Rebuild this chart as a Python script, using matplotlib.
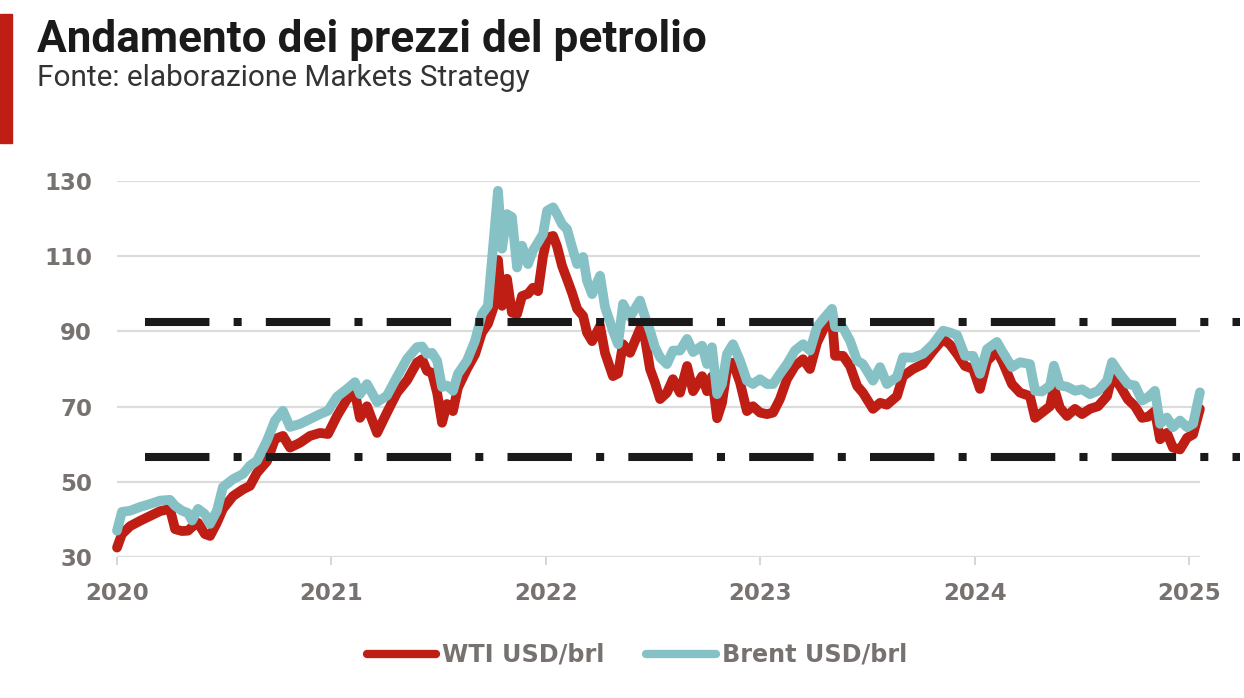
import matplotlib
matplotlib.use("Agg")
import matplotlib.pyplot as plt
from matplotlib.patches import Rectangle

# valori (anno decimale, USD/brl)
anni = [
    2020.000, 2020.023, 2020.061, 2020.107, 2020.154, 2020.201, 2020.247, 2020.271,
    2020.303, 2020.331, 2020.350, 2020.378, 2020.410, 2020.434, 2020.466, 2020.494,
    2020.541, 2020.588, 2020.620, 2020.653, 2020.700, 2020.737, 2020.774, 2020.807,
    2020.854, 2020.900, 2020.947, 2020.984, 2021.026, 2021.073, 2021.110, 2021.133,
    2021.166, 2021.213, 2021.259, 2021.306, 2021.353, 2021.399, 2021.423, 2021.446,
    2021.469, 2021.493, 2021.516, 2021.539, 2021.567, 2021.590, 2021.632, 2021.670,
    2021.702, 2021.730, 2021.754, 2021.777, 2021.796, 2021.819, 2021.842, 2021.866,
    2021.889, 2021.917, 2021.940, 2021.964, 2021.987, 2022.006, 2022.034, 2022.052,
    2022.076, 2022.099, 2022.122, 2022.146, 2022.174, 2022.192, 2022.216, 2022.253,
    2022.276, 2022.313, 2022.337, 2022.360, 2022.393, 2022.439, 2022.463, 2022.486,
    2022.509, 2022.533, 2022.565, 2022.593, 2022.626, 2022.659, 2022.687, 2022.729,
    2022.752, 2022.775, 2022.799, 2022.822, 2022.845, 2022.873, 2022.906, 2022.938,
    2022.966, 2022.999, 2023.032, 2023.060, 2023.092, 2023.125, 2023.162, 2023.200,
    2023.232, 2023.265, 2023.302, 2023.335, 2023.349, 2023.386, 2023.419, 2023.452,
    2023.479, 2023.526, 2023.559, 2023.591, 2023.638, 2023.666, 2023.713, 2023.759,
    2023.806, 2023.853, 2023.885, 2023.918, 2023.955, 2023.993, 2024.025, 2024.058,
    2024.104, 2024.132, 2024.174, 2024.212, 2024.258, 2024.282, 2024.314, 2024.352,
    2024.370, 2024.398, 2024.431, 2024.468, 2024.501, 2024.538, 2024.576, 2024.618,
    2024.641, 2024.678, 2024.715, 2024.748, 2024.781, 2024.809, 2024.841, 2024.865,
    2024.897, 2024.925, 2024.958, 2024.991, 2025.019, 2025.051,
]

brent = [
    37.0, 42.0, 42.3, 43.3, 44.1, 45.0, 45.2, 43.6,
    42.3, 41.7, 39.7, 42.8, 41.4, 38.8, 42.3, 48.6,
    50.7, 52.1, 54.3, 55.6, 61.0, 66.3, 68.9, 64.6,
    65.4, 66.7, 68.0, 68.9, 72.6, 74.7, 76.5, 73.3,
    76.0, 71.2, 72.9, 77.9, 82.7, 85.8, 86.0, 84.0,
    84.3, 82.2, 75.2, 75.6, 74.2, 78.7, 82.2, 87.5,
    94.6, 96.8, 112.4, 127.4, 112.0, 121.2, 120.4, 107.0,
    112.8, 107.9, 111.5, 113.7, 115.9, 122.1, 123.0, 121.2,
    118.5, 117.2, 112.5, 107.9, 109.8, 103.5, 99.9, 104.8,
    96.5, 90.2, 86.6, 97.3, 93.8, 98.2, 93.8, 90.2,
    85.8, 83.1, 81.3, 84.9, 84.9, 88.0, 84.5, 86.2,
    81.3, 85.8, 73.3, 76.0, 84.0, 86.6, 82.2, 76.9,
    76.0, 77.3, 76.0, 76.0, 78.7, 81.3, 84.9, 86.6,
    84.9, 91.2, 93.8, 96.0, 91.2, 91.0, 87.5, 82.2,
    81.3, 76.9, 80.5, 76.0, 77.9, 83.1, 83.0, 84.0,
    86.6, 90.2, 89.7, 89.0, 83.5, 83.5, 78.7, 85.3,
    87.2, 84.4, 80.5, 81.8, 81.3, 74.2, 74.0, 75.6,
    80.9, 75.6, 75.3, 74.2, 74.6, 73.3, 74.2, 76.9,
    81.8, 78.7, 76.0, 75.6, 71.6, 72.5, 74.2, 65.4,
    67.1, 64.5, 66.3, 64.5, 65.4, 73.8,
]

wti = [
    32.5, 36.1, 38.2, 39.6, 40.9, 42.2, 42.8, 37.4,
    36.9, 37.0, 38.0, 39.1, 36.1, 35.6, 39.1, 42.8,
    46.2, 48.0, 48.9, 52.4, 55.5, 61.4, 62.2, 59.1,
    60.4, 62.2, 63.0, 62.7, 67.5, 72.0, 73.7, 67.0,
    70.1, 63.0, 68.4, 73.7, 77.0, 81.7, 82.6, 79.5,
    79.0, 73.7, 65.7, 70.7, 68.8, 75.0, 80.0, 83.9,
    89.7, 92.0, 96.0, 109.0, 96.8, 104.0, 95.0, 94.6,
    99.4, 100.0, 101.6, 100.7, 110.0, 114.9, 115.4, 112.7,
    107.4, 103.9, 100.3, 96.0, 94.1, 89.7, 87.4, 91.4,
    84.3, 78.1, 78.8, 86.6, 84.3, 90.6, 88.0, 80.0,
    76.4, 72.0, 73.7, 77.3, 73.7, 80.8, 74.1, 78.1,
    74.1, 78.0, 66.9, 71.0, 80.0, 81.7, 76.4, 68.8,
    70.1, 68.4, 68.0, 68.4, 72.0, 77.3, 80.8, 82.6,
    80.0, 87.0, 91.4, 93.2, 83.5, 83.5, 80.8, 75.5,
    73.7, 69.4, 71.0, 70.5, 72.8, 78.1, 80.0, 81.3,
    84.8, 88.0, 86.5, 84.0, 80.8, 80.0, 74.7, 82.1,
    84.8, 81.7, 76.0, 73.7, 72.8, 67.0, 68.4, 70.1,
    75.0, 69.7, 67.5, 69.4, 68.0, 69.4, 70.1, 72.8,
    78.1, 75.5, 71.9, 70.1, 67.0, 67.3, 68.8, 61.3,
    63.0, 59.1, 58.6, 61.7, 62.6, 69.4,
]

# livelli di riferimento (linee tratto-punto)
livello_alto = 92.5
livello_basso = 56.5

anni_tick = [2020, 2021, 2022, 2023, 2024, 2025]
valori_tick = [30, 50, 70, 90, 110, 130]

ROSSO = "#be1e14"
AZZURRO = "#86c1c6"
GRIGIO = "#77726f"
W, H = 1244, 698

fig = plt.figure(figsize=(W / 100, H / 100), dpi=100)
ax = fig.add_axes([117 / W, 1 - 557 / H, (1200 - 117) / W, (557 - 181) / H])

ax.plot(anni, wti, color=ROSSO, lw=7, solid_joinstyle="round",
        solid_capstyle="round", label="WTI USD/brl", zorder=3, clip_on=False)
ax.plot(anni, brent, color=AZZURRO, lw=7, solid_joinstyle="round",
        solid_capstyle="round", label="Brent USD/brl", zorder=4, clip_on=False)

x0 = 2020 + (145 - 117) / 214.4
x1 = 2020 + (1240 - 117) / 214.4
for lv in (livello_alto, livello_basso):
    ln, = ax.plot([x0, x1], [lv, lv], color="#1a1a1a", lw=5.8,
                  dash_capstyle="butt", clip_on=False, zorder=5)
    ln.set_dashes([8, 3, 1, 3])

ax.set_xlim(2020, 2020 + (1200 - 117) / 214.4)
ax.set_ylim(30, 130)
ax.set_xticks(anni_tick)
ax.set_xticklabels([str(a) for a in anni_tick])
ax.set_yticks(valori_tick)
ax.set_yticklabels([str(v) for v in valori_tick])

for s in ax.spines.values():
    s.set_visible(False)
ax.grid(axis="y", color="#dcdcdc", lw=1.6)
ax.set_axisbelow(True)
ax.tick_params(axis="y", length=0, pad=18, labelsize=16.5, labelcolor=GRIGIO)
ax.tick_params(axis="x", length=6, width=1.2, color="#d0d0d0", pad=12,
               labelsize=16.5, labelcolor=GRIGIO)
for lab in ax.get_xticklabels() + ax.get_yticklabels():
    lab.set_fontfamily("DejaVu Sans")
    lab.set_fontweight("bold")

leg = fig.legend(loc="center", bbox_to_anchor=(637 / W, 1 - 655 / H), ncol=2,
                 frameon=False, handlelength=2.9, handletextpad=0.25,
                 columnspacing=1.75,
                 prop={"family": "DejaVu Sans", "weight": "bold", "size": 17.2})
for t in leg.get_texts():
    t.set_color(GRIGIO)
for h in leg.get_lines():
    h.set_linewidth(6)
    h.set_solid_capstyle("round")

# barra rossa a sinistra
fig.patches.append(Rectangle((0, 1 - 143 / H), 12 / W, (143 - 14) / H,
                             transform=fig.transFigure, color=ROSSO, zorder=0))

titolo = fig.text(37 / W, 1 - 52 / H, "Andamento dei prezzi del petrolio",
                  family=["Roboto", "DejaVu Sans"], weight="bold", size=28,
                  color="#1a1a1a", va="baseline", ha="left")
sottotitolo = fig.text(37 / W, 1 - 86 / H, "Fonte: elaborazione Markets Strategy",
                       family=["Roboto", "DejaVu Sans"], size=17,
                       color="#333333", va="baseline", ha="left")

# adatta la larghezza dei testi a quella del riferimento
r = fig.canvas.get_renderer()
for txt, larg in ((titolo, 668), (sottotitolo, 493)):
    w = txt.get_window_extent(r).width
    txt.set_fontsize(txt.get_fontsize() * larg / w)

fig.savefig("out.png", dpi=100)
